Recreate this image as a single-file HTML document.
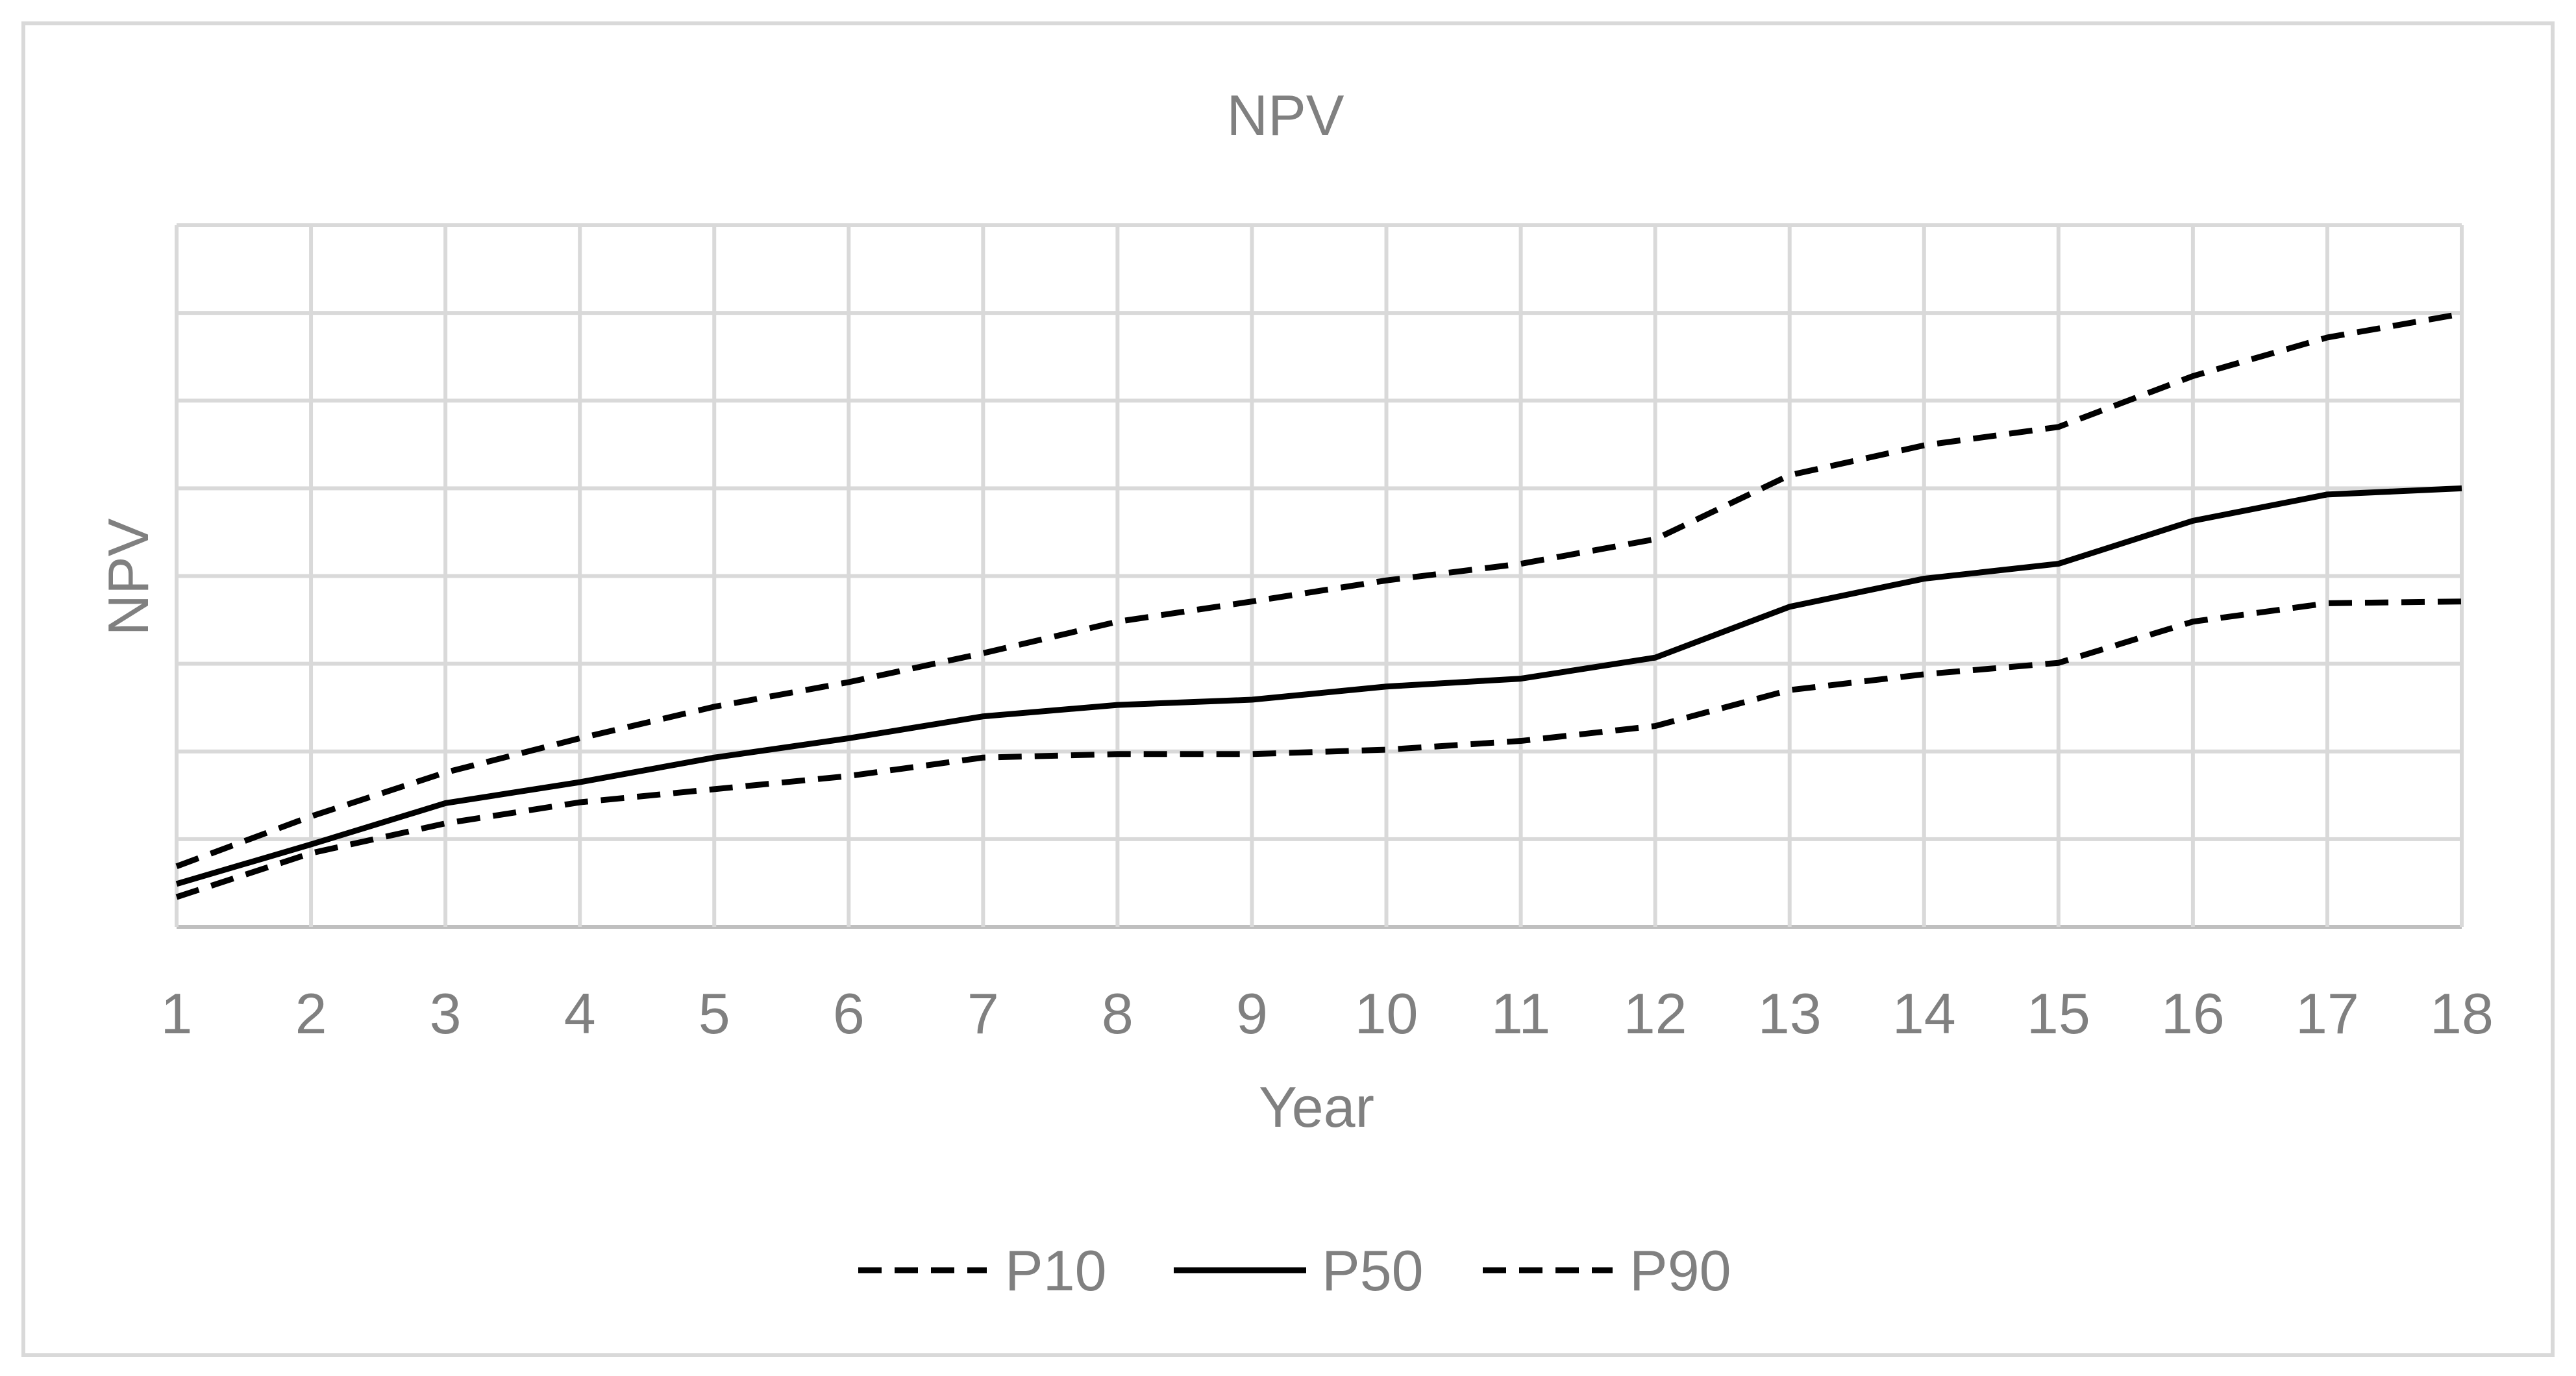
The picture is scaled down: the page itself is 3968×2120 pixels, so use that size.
<!DOCTYPE html>
<html><head><meta charset="utf-8"><style>
body{margin:0;background:#fff;}
svg{display:block;font-family:"Liberation Sans",sans-serif;}
</style></head><body>
<svg id="chart" width="3968" height="2120" viewBox="0 0 3968 2120">
<rect x="36" y="36" width="3896" height="2052" fill="#fff" stroke="#d9d9d9" stroke-width="6"/>
<text x="1980" y="208" font-size="88" fill="#808080" text-anchor="middle">NPV</text>
<g id="grid"></g>
<g id="series"></g>
<g id="xticks"></g>
<text x="2028" y="1736" font-size="88" fill="#808080" text-anchor="middle">Year</text>
<text transform="translate(228,889) rotate(-90)" font-size="88" fill="#808080" text-anchor="middle">NPV</text>
<g>
<g>
<line x1="1322" y1="1957" x2="1520" y2="1957" stroke="#000" stroke-width="9" stroke-dasharray="36,20"/>
<text x="1548" y="1988" font-size="88" fill="#808080">P10</text></g>
<g>
<line x1="1808" y1="1957" x2="2012" y2="1957" stroke="#000" stroke-width="9"/>
<text x="2036" y="1988" font-size="88" fill="#808080">P50</text></g>
<g>
<line x1="2284" y1="1957" x2="2484" y2="1957" stroke="#000" stroke-width="9" stroke-dasharray="36,20"/>
<text x="2510" y="1988" font-size="88" fill="#808080">P90</text></g>
</g>
</svg>
<script>
const years=[1,2,3,4,5,6,7,8,9,10,11,12,13,14,15,16,17,18];
const p10=[0.69,1.26,1.76,2.15,2.51,2.79,3.12,3.48,3.71,3.95,4.14,4.42,5.15,5.49,5.70,6.28,6.72,6.99];
const p50=[0.49,0.94,1.41,1.65,1.93,2.15,2.40,2.53,2.59,2.74,2.83,3.07,3.65,3.97,4.14,4.63,4.93,5.00];
const p90=[0.34,0.84,1.18,1.42,1.57,1.72,1.93,1.97,1.97,2.02,2.12,2.29,2.70,2.88,3.01,3.48,3.69,3.71];
const yMax=8;
const L=272,R=3792,T=347,B=1428;
const NS='http://www.w3.org/2000/svg';
function xs(v){return L+(v-years[0])/(years[years.length-1]-years[0])*(R-L);}
function ys(v){return B-v/yMax*(B-T);}
const grid=document.getElementById('grid');
for(let i=0;i<=yMax;i++){
  const l=document.createElementNS(NS,'line');
  l.setAttribute('x1',L);l.setAttribute('x2',R);l.setAttribute('y1',ys(i));l.setAttribute('y2',ys(i));
  l.setAttribute('stroke',i===0?'#bfbfbf':'#d9d9d9');l.setAttribute('stroke-width','6');
  
  
  grid.appendChild(l);
}
const xt=document.getElementById('xticks');
years.forEach(y=>{
  const l=document.createElementNS(NS,'line');
  l.setAttribute('x1',xs(y));l.setAttribute('x2',xs(y));l.setAttribute('y1',T);l.setAttribute('y2',B);
  l.setAttribute('stroke','#d9d9d9');l.setAttribute('stroke-width','6');
  
  
  grid.appendChild(l);
  const t=document.createElementNS(NS,'text');
  t.setAttribute('x',xs(y));t.setAttribute('y',1592);t.setAttribute('font-size','88');
  t.setAttribute('fill','#808080');t.setAttribute('text-anchor','middle');
  t.textContent=y;
  
  
  xt.appendChild(t);
});
const sg=document.getElementById('series');
[[p10,'36,20','line-p10'],[p50,null,'line-p50'],[p90,'36,20','line-p90']].forEach(([d,dash,name])=>{
  const p=document.createElementNS(NS,'polyline');
  p.setAttribute('points',d.map((v,i)=>xs(years[i])+','+ys(v)).join(' '));
  p.setAttribute('fill','none');p.setAttribute('stroke','#000');p.setAttribute('stroke-width','9');
  p.setAttribute('stroke-linejoin','round');
  if(dash)p.setAttribute('stroke-dasharray',dash);
  
  
  sg.appendChild(p);
});
</script>
</body></html>
